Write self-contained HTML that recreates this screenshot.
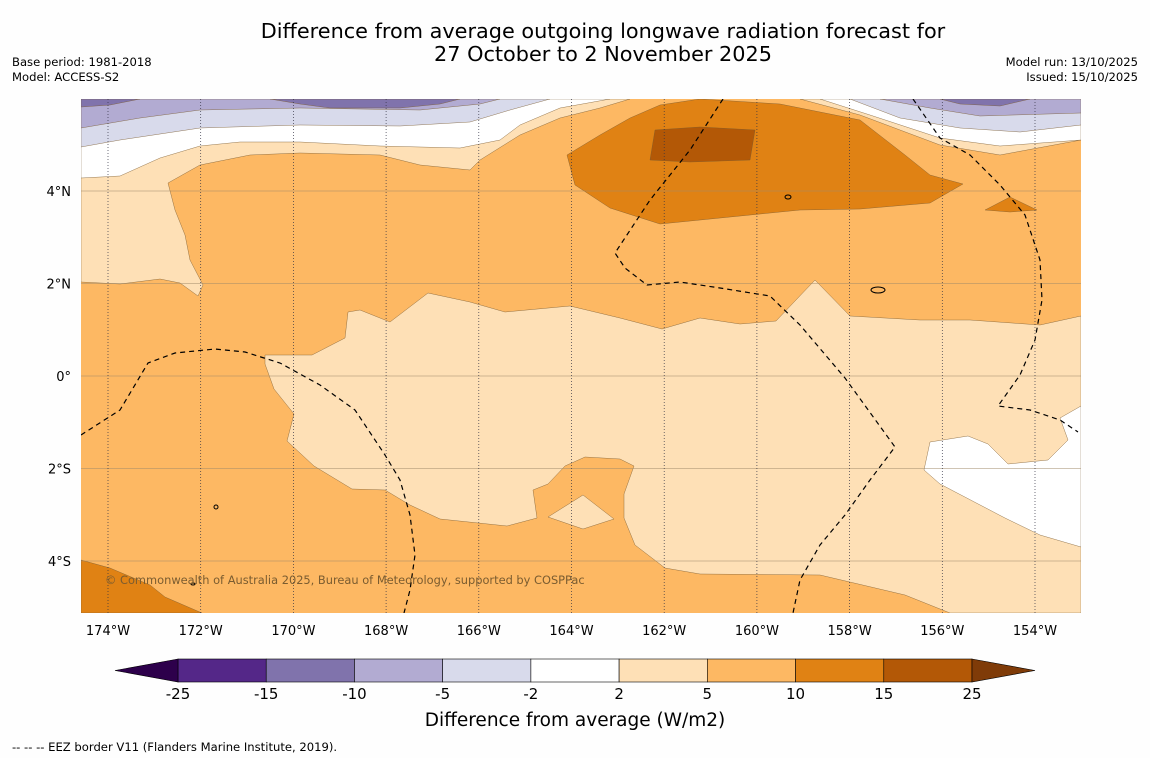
<!DOCTYPE html>
<html><head><meta charset="utf-8"><style>
body{margin:0;background:#fff;width:1150px;height:758px;overflow:hidden;font-family:"Liberation Sans","DejaVu Sans",sans-serif}
text{font-family:"DejaVu Sans","Liberation Sans",sans-serif}
</style></head><body>
<svg id="s" width="1150" height="758" viewBox="0 0 1150 758">
<rect x="0" y="0" width="1150" height="758" fill="#fefefe"/>
<text x="603" y="38" font-size="20.8" text-anchor="middle">Difference from average outgoing longwave radiation forecast for</text>
<text x="603" y="61" font-size="20.8" text-anchor="middle">27 October to 2 November 2025</text>
<text x="12" y="66" font-size="11.6">Base period: 1981-2018</text>
<text x="12" y="81" font-size="11.6">Model: ACCESS-S2</text>
<text x="1138" y="66" font-size="11.6" text-anchor="end">Model run: 13/10/2025</text>
<text x="1138" y="81" font-size="11.6" text-anchor="end">Issued: 15/10/2025</text>
<defs><clipPath id="mc"><rect x="81" y="99" width="1000" height="514"/></clipPath></defs>
<g id="map" clip-path="url(#mc)" stroke="#7a5a30" stroke-width="0.4">
<rect x="81" y="99" width="1000" height="514" fill="#fdb863" stroke="none"/>
<polygon fill="#fee0b6" points="81,99 630,99 600,108 560,118 520,135 480,160 470,170 420,165 380,155 300,153 250,155 200,165 168,183 175,210 185,235 190,260 203,285 198,296 180,283 160,279 120,284 81,282"/>
<polygon fill="#fee0b6" points="800,99 1081,99 1081,140 1000,155 940,145 860,115"/>
<polygon fill="#fee0b6" points="265,355 312,355 345,338 348,312 360,310 390,322 428,293 470,302 505,312 570,306 620,318 662,329 700,318 740,324 776,321 815,280 850,316 920,320 970,320 1040,325 1081,316 1081,613 950,613 905,595 820,575 700,574 665,568 635,545 624,518 624,494 634,466 620,459 585,457 565,466 548,484 533,490 537,518 507,526 440,519 410,505 385,490 352,489 314,466 287,441 294,414 274,389 265,364"/>
<polygon fill="#fee0b6" points="548,517 583,495 614,519 583,529"/>
<polygon fill="#ffffff" points="930,442 968,436 988,444 1008,464 1048,460 1068,440 1060,418 1081,406 1081,547 1040,535 1005,518 940,484 924,470"/>
<polygon fill="#ffffff" points="81,99 610,99 560,108 520,125 500,140 460,148 380,146 300,142 240,142 200,146 160,158 120,176 81,178"/>
<polygon fill="#ffffff" points="820,99 1081,99 1081,140 1000,146 940,138 870,115"/>
<polygon fill="#d8daeb" points="81,99 550,99 510,110 470,122 400,126 300,125 200,128 120,140 81,147"/>
<polygon fill="#d8daeb" points="850,99 1081,99 1081,125 1020,132 960,128 900,118"/>
<polygon fill="#b2abd2" points="81,99 500,99 480,104 420,110 300,108 200,110 140,118 81,128"/>
<polygon fill="#b2abd2" points="880,99 1081,99 1081,113 980,116 930,108"/>
<polygon fill="#8073ac" points="81,99 140,99 110,105 81,107"/>
<polygon fill="#8073ac" points="270,99 460,99 440,104 400,108 330,108 300,104"/>
<polygon fill="#8073ac" points="940,99 1030,99 1000,106 960,104"/>
<polygon fill="#e08214" points="567,155 600,135 630,118 660,105 700,99 780,104 860,120 905,155 930,175 963,184 930,203 860,209 800,210 720,218 660,224 610,208 575,185"/>
<polygon fill="#b35806" points="655,130 700,127 755,130 750,160 690,162 650,160"/>
<polygon fill="#e08214" points="985,210 1010,197 1037,210 1010,212"/>
<polygon fill="#e08214" points="81,560 110,568 150,585 165,597 202,613 81,613"/>
<g id="grid"></g>
<g fill="none" stroke="#000" stroke-width="1.2" stroke-dasharray="5,4">
<polyline points="723,99 690,150 650,200 615,253 625,268 647,285 680,282 720,288 770,296 800,325 845,378 895,447 870,480 845,515 820,545 800,580 793,613"/>
<polyline points="913,99 940,138 970,155 1000,185 1025,215 1040,260 1042,300 1035,340 1020,375 998,406 1030,410 1060,420 1078,432"/>
<polyline points="81,435 120,410 148,363 175,353 215,349 245,352 280,363 320,385 355,410 385,455 400,480 410,515 415,555 410,590 404,613"/>
</g>
<g fill="none" stroke="#000" stroke-width="1">
<ellipse cx="788" cy="197" rx="3" ry="2"/><ellipse cx="878" cy="290" rx="7" ry="3"/><ellipse cx="216" cy="507" rx="2" ry="2"/><ellipse cx="193" cy="584" rx="2" ry="1"/>
</g>
<text x="105" y="584" font-size="11.4" fill="#7a5c30" stroke="none">© Commonwealth of Australia 2025, Bureau of Meteorology, supported by COSPPac</text>
</g>
<g id="axes"></g>
<g id="cbar"></g>
<text x="575" y="726" font-size="18.5" text-anchor="middle">Difference from average (W/m2)</text>
<text x="12" y="751" font-size="11.6">--  --  -- EEZ border V11 (Flanders Marine Institute, 2019).</text>
</svg>
<script>
const lonTicks=[-174,-172,-170,-168,-166,-164,-162,-160,-158,-156,-154];
const latTicks=[4,2,0,-2,-4];
const cbBounds=[-25,-15,-10,-5,-2,2,5,10,15,25];
const cbColors=['#542788','#8073ac','#b2abd2','#d8daeb','#ffffff','#fee0b6','#fdb863','#e08214','#b35806'];
const cbLow='#2d004b', cbHigh='#7f3b08';
const NS='http://www.w3.org/2000/svg';
function X(lon){return 108+(lon+174)*46.35;}
function Y(lat){return 376-lat*46.25;}
function mk(t,a,p){const e=document.createElementNS(NS,t);for(const k in a)e.setAttribute(k,a[k]);p.appendChild(e);return e;}
const grid=document.getElementById('grid'),axes=document.getElementById('axes'),cb=document.getElementById('cbar');
latTicks.forEach(v=>{const l=mk('line',{x1:81,x2:1081,y1:Y(v),y2:Y(v),stroke:'#a08a6a','stroke-width':0.6},grid);


const t=mk('text',{x:71,y:Y(v)+5,'font-size':13,'text-anchor':'end'},axes);
t.textContent=v===0?'0°':Math.abs(v)+'°'+(v>0?'N':'S');

});
lonTicks.forEach(v=>{const l=mk('line',{x1:X(v),x2:X(v),y1:99,y2:613,stroke:'#334','stroke-width':0.7,'stroke-dasharray':'1,2'},grid);


const t=mk('text',{x:X(v),y:635,'font-size':13,'text-anchor':'middle'},axes);
t.textContent=Math.abs(v)+'°W';

});
const c0=178,c1=972,n=cbColors.length,w=(c1-c0)/n,y0=659,h=23;
cbColors.forEach((c,i)=>{const r=mk('rect',{x:c0+i*w,y:y0,width:w,height:h,fill:c,stroke:'#000','stroke-width':0.6},cb);

});
const tl=mk('polygon',{points:`${c0},${y0} 115,${y0+h/2} ${c0},${y0+h}`,fill:cbLow,stroke:'#000','stroke-width':0.6},cb);


const th=mk('polygon',{points:`${c1},${y0} 1035,${y0+h/2} ${c1},${y0+h}`,fill:cbHigh,stroke:'#000','stroke-width':0.6},cb);


cbBounds.forEach((b,i)=>{const t=mk('text',{x:c0+i*w,y:699,'font-size':15,'text-anchor':'middle'},cb);
t.textContent=b;

});
</script>
</body></html>
